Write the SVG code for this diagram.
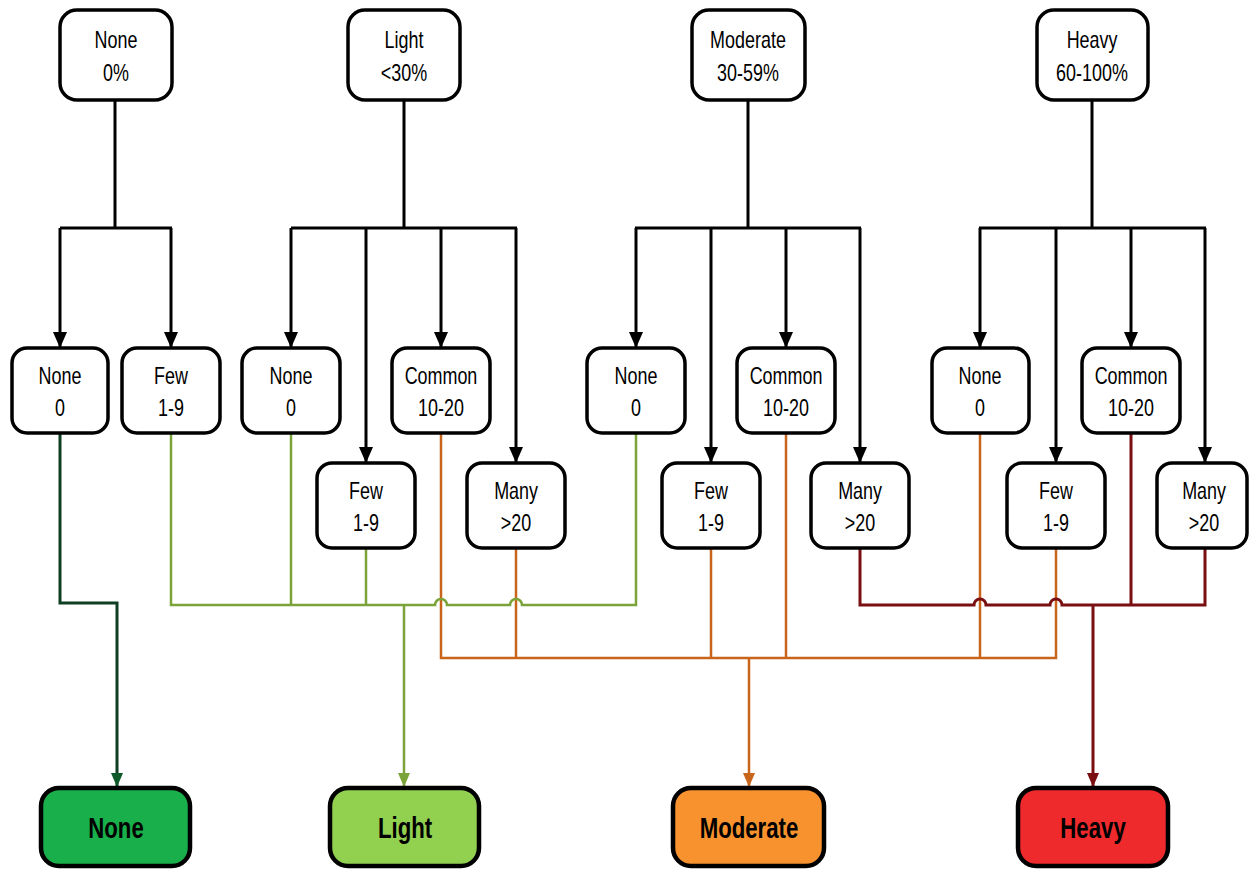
<svg xmlns="http://www.w3.org/2000/svg" width="1249" height="871" viewBox="0 0 1249 871">
<style>
.box{fill:#fff;stroke:#000;stroke-width:3.5}
.t{font-family:"Liberation Sans",Arial,sans-serif;font-size:23px;text-anchor:middle;fill:#000;transform-box:fill-box;transform-origin:center;transform:scaleX(0.78)}
.bt{font-family:"Liberation Sans",Arial,sans-serif;font-size:30px;font-weight:bold;text-anchor:middle;fill:#000;transform-box:fill-box;transform-origin:center;transform:scaleX(0.74)}
.blk{fill:none;stroke:#000;stroke-width:3}
.c{fill:none;stroke-width:2.5}
.cn{stroke:#0f3f22;stroke-width:3}
.cl{stroke:#7aa33a}
.cm{stroke:#c8651b}
.ch{stroke:#7a0f12;stroke-width:3}
.ob{stroke:#000;stroke-width:4.5}
</style>
<defs>
<marker id="an" markerUnits="userSpaceOnUse" markerWidth="12" markerHeight="14" refX="6" refY="14" viewBox="0 0 12 14" orient="0"><path d="M0 0 L12 0 L6 14 Z" fill="#0f5a2a"/></marker>
<marker id="al" markerUnits="userSpaceOnUse" markerWidth="12" markerHeight="14" refX="6" refY="14" viewBox="0 0 12 14" orient="0"><path d="M0 0 L12 0 L6 14 Z" fill="#7aa33a"/></marker>
<marker id="am" markerUnits="userSpaceOnUse" markerWidth="12" markerHeight="14" refX="6" refY="14" viewBox="0 0 12 14" orient="0"><path d="M0 0 L12 0 L6 14 Z" fill="#c8651b"/></marker>
<marker id="ah" markerUnits="userSpaceOnUse" markerWidth="12" markerHeight="14" refX="6" refY="14" viewBox="0 0 12 14" orient="0"><path d="M0 0 L12 0 L6 14 Z" fill="#7a0f12"/></marker>
<marker id="ak" markerUnits="userSpaceOnUse" markerWidth="14" markerHeight="16" refX="7" refY="16" viewBox="0 0 14 16" orient="0"><path d="M0 0 L14 0 L7 16 Z" fill="#000"/></marker>
</defs>
<rect width="1249" height="871" fill="#fff"/>
<g id="connectors">
<path class="blk" d="M115 100 V228 M60 228 H172"/>
<path class="blk" marker-end="url(#ak)" d="M60 228 V348"/>
<path class="blk" marker-end="url(#ak)" d="M171 228 V348"/>
<path class="blk" d="M404 100 V228 M291 228 H517"/>
<path class="blk" marker-end="url(#ak)" d="M291 228 V348"/>
<path class="blk" marker-end="url(#ak)" d="M366 228 V463"/>
<path class="blk" marker-end="url(#ak)" d="M441 228 V348"/>
<path class="blk" marker-end="url(#ak)" d="M516 228 V463"/>
<path class="blk" d="M748 100 V228 M635 228 H861"/>
<path class="blk" marker-end="url(#ak)" d="M636 228 V348"/>
<path class="blk" marker-end="url(#ak)" d="M711 228 V463"/>
<path class="blk" marker-end="url(#ak)" d="M786 228 V348"/>
<path class="blk" marker-end="url(#ak)" d="M860 228 V463"/>
<path class="blk" d="M1092 100 V228 M979 228 H1206"/>
<path class="blk" marker-end="url(#ak)" d="M980 228 V348"/>
<path class="blk" marker-end="url(#ak)" d="M1056 228 V463"/>
<path class="blk" marker-end="url(#ak)" d="M1131 228 V348"/>
<path class="blk" marker-end="url(#ak)" d="M1205 228 V463"/>
<path class="c cm" d="M441 433 V658 H1056 V548 M516 548 V658 M711 548 V658 M786 433 V658 M980 433 V658"/>
<path class="c cm" marker-end="url(#am)" d="M749 658 V787"/>
<path class="c cn" marker-end="url(#an)" d="M60 433 V603 H117 V787"/>
<path class="c cl" d="M171 433 V605 H435 A6 6 0 0 1 447 605 H510 A6 6 0 0 1 522 605 H636 V433 M291 433 V605 M366 548 V605"/>
<path class="c cl" marker-end="url(#al)" d="M404 605 V787"/>
<path class="c ch" d="M860 548 V605 H974 A6 6 0 0 1 986 605 H1050 A6 6 0 0 1 1062 605 H1205 V548 M1131 433 V605"/>
<path class="c ch" marker-end="url(#ah)" d="M1093 605 V787"/>
</g>
<g id="top-none"><rect class="box" x="60" y="10" width="112" height="90" rx="17"/><text class="t" x="116" y="48">None</text><text class="t" x="116" y="81">0%</text></g>
<g id="top-light"><rect class="box" x="348" y="10" width="112" height="90" rx="17"/><text class="t" x="404" y="48">Light</text><text class="t" x="404" y="81">&lt;30%</text></g>
<g id="top-moderate"><rect class="box" x="692" y="10" width="113" height="90" rx="17"/><text class="t" x="748" y="48">Moderate</text><text class="t" x="748" y="81">30-59%</text></g>
<g id="top-heavy"><rect class="box" x="1037" y="10" width="111" height="90" rx="17"/><text class="t" x="1092" y="48">Heavy</text><text class="t" x="1092" y="81">60-100%</text></g>
<g id="n-none-0"><rect class="box" x="12" y="348" width="96" height="85" rx="15"/><text class="t" x="60" y="384">None</text><text class="t" x="60" y="416">0</text></g>
<g id="n-none-few"><rect class="box" x="122" y="348" width="98" height="85" rx="15"/><text class="t" x="171" y="384">Few</text><text class="t" x="171" y="416">1-9</text></g>
<g id="l-none"><rect class="box" x="242" y="348" width="98" height="85" rx="15"/><text class="t" x="291" y="384">None</text><text class="t" x="291" y="416">0</text></g>
<g id="l-common"><rect class="box" x="392" y="348" width="98" height="85" rx="15"/><text class="t" x="441" y="384">Common</text><text class="t" x="441" y="416">10-20</text></g>
<g id="l-few"><rect class="box" x="317" y="463" width="98" height="85" rx="15"/><text class="t" x="366" y="499">Few</text><text class="t" x="366" y="531">1-9</text></g>
<g id="l-many"><rect class="box" x="467" y="463" width="98" height="85" rx="15"/><text class="t" x="516" y="499">Many</text><text class="t" x="516" y="531">&gt;20</text></g>
<g id="m-none"><rect class="box" x="587" y="348" width="98" height="85" rx="15"/><text class="t" x="636" y="384">None</text><text class="t" x="636" y="416">0</text></g>
<g id="m-common"><rect class="box" x="737" y="348" width="98" height="85" rx="15"/><text class="t" x="786" y="384">Common</text><text class="t" x="786" y="416">10-20</text></g>
<g id="m-few"><rect class="box" x="662" y="463" width="98" height="85" rx="15"/><text class="t" x="711" y="499">Few</text><text class="t" x="711" y="531">1-9</text></g>
<g id="m-many"><rect class="box" x="811" y="463" width="98" height="85" rx="15"/><text class="t" x="860" y="499">Many</text><text class="t" x="860" y="531">&gt;20</text></g>
<g id="h-none"><rect class="box" x="932" y="348" width="97" height="85" rx="15"/><text class="t" x="980" y="384">None</text><text class="t" x="980" y="416">0</text></g>
<g id="h-common"><rect class="box" x="1082" y="348" width="98" height="85" rx="15"/><text class="t" x="1131" y="384">Common</text><text class="t" x="1131" y="416">10-20</text></g>
<g id="h-few"><rect class="box" x="1007" y="463" width="98" height="85" rx="15"/><text class="t" x="1056" y="499">Few</text><text class="t" x="1056" y="531">1-9</text></g>
<g id="h-many"><rect class="box" x="1157" y="463" width="90" height="85" rx="15"/><text class="t" x="1204" y="499">Many</text><text class="t" x="1204" y="531">&gt;20</text></g>
<g id="out-none"><rect class="ob" x="41" y="788" width="149" height="78" rx="18" fill="#19b04b"/><text class="bt" x="116" y="838">None</text></g>
<g id="out-light"><rect class="ob" x="330" y="788" width="149" height="78" rx="18" fill="#92d050"/><text class="bt" x="405" y="838">Light</text></g>
<g id="out-moderate"><rect class="ob" x="673" y="788" width="151" height="78" rx="18" fill="#f7922e"/><text class="bt" x="749" y="838">Moderate</text></g>
<g id="out-heavy"><rect class="ob" x="1018" y="788" width="150" height="78" rx="18" fill="#ee2a2d"/><text class="bt" x="1093" y="838">Heavy</text></g>
</svg>
